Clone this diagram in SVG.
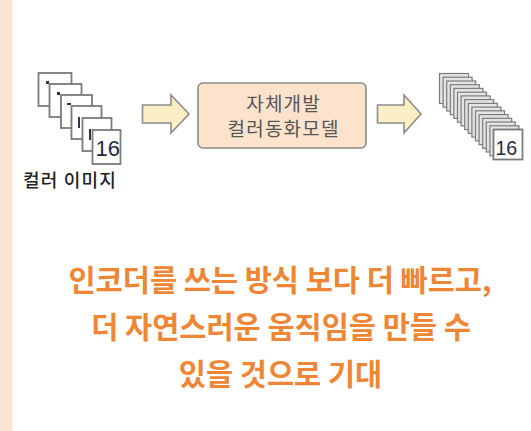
<svg xmlns="http://www.w3.org/2000/svg" width="531" height="431" viewBox="0 0 531 431">
  <style>
    .frame { fill: #ffffff; stroke: #7a7a7a; stroke-width: 1.8; }
    .gframe { fill: #e4e4e4; stroke: #7c7c7c; stroke-width: 1.2; }
    .peek { fill: #2a3550; }
    .num { font-family: "Liberation Sans", "DejaVu Sans", sans-serif; fill: #1e2a40; }
    .arrow { fill: #fdeec6; stroke: #8c8c8c; stroke-width: 1.6; stroke-linejoin: miter; }
    .box { fill: #fde3cc; stroke: #8a8a8a; stroke-width: 1.6; }
    .boxtxt { font-family: "Noto Sans CJK KR", "Noto Sans", sans-serif; font-size: 19px; letter-spacing: 1.2px; fill: #555555; text-anchor: middle; }
    .label { font-family: "Noto Sans CJK KR", "Noto Sans", sans-serif; font-size: 18px; font-weight: 500; letter-spacing: 1.2px; fill: #222222; }
    .note { font-family: "Noto Sans CJK KR", "Noto Sans", sans-serif; font-size: 29.5px; font-weight: 700; fill: #ef8636; text-anchor: middle; }
  </style>

  <rect x="0" y="0" width="531" height="431" fill="#ffffff"/>
  <!-- side strip -->
  <rect x="0" y="0" width="12.5" height="431" fill="#fde4d2"/>

  <!-- input: stack of colour frames -->
  <g id="input-frames">
    <rect class="frame" x="38.5" y="73" width="33" height="33"/>
    <rect class="peek" x="46" y="81" width="3" height="3"/>
    <rect class="frame" x="49.5" y="84" width="32" height="33"/>
    <rect class="peek" x="57" y="92" width="3" height="3"/>
    <rect class="frame" x="61" y="95" width="31" height="33"/>
    <rect class="peek" x="67" y="103" width="4" height="2"/>
    <rect class="frame" x="71.5" y="106" width="30" height="33"/>
    <rect class="peek" x="78" y="117" width="2" height="11"/>
    <rect class="frame" x="82.5" y="118" width="29" height="33"/>
    <rect class="peek" x="89" y="129" width="2" height="11"/>
    <rect class="frame" x="92.5" y="130" width="28" height="34"/>
    <text class="num" x="95.5" y="155.5" font-size="22">16</text>
    <text class="label" x="23" y="187">컬러 이미지</text>
  </g>

  <!-- colourisation model -->
  <g id="model">
    <rect class="box" x="198" y="83" width="168" height="65" rx="5" ry="5"/>
    <text class="boxtxt" x="283.6" y="111">자체개발</text>
    <text class="boxtxt" x="283.6" y="136">컬러동화모델</text>
  </g>

  <!-- output: long stack of frames -->
  <g id="output-frames">
    <rect class="gframe" x="439.5" y="73.5" width="29" height="30"/>
    <rect class="gframe" x="443.1" y="77.2" width="29" height="30"/>
    <rect class="gframe" x="446.7" y="81" width="29" height="30"/>
    <rect class="gframe" x="450.3" y="84.7" width="29" height="30"/>
    <rect class="gframe" x="453.9" y="88.4" width="29" height="30"/>
    <rect class="gframe" x="457.5" y="92.2" width="29" height="30"/>
    <rect class="gframe" x="461.1" y="95.9" width="29" height="30"/>
    <rect class="gframe" x="464.7" y="99.6" width="29" height="30"/>
    <rect class="gframe" x="468.3" y="103.4" width="29" height="30"/>
    <rect class="gframe" x="471.9" y="107.1" width="29" height="30"/>
    <rect class="gframe" x="475.5" y="110.8" width="29" height="30"/>
    <rect class="gframe" x="479.1" y="114.6" width="29" height="30"/>
    <rect class="gframe" x="482.7" y="118.3" width="29" height="30"/>
    <rect class="gframe" x="486.3" y="122" width="29" height="30"/>
    <rect class="gframe" x="489.9" y="125.8" width="29" height="30"/>
    <rect class="frame" x="493.5" y="129.5" width="29" height="30"/>
    <text class="num" x="495.5" y="154.5" font-size="19.5">16</text>
  </g>

  <g id="connectors">
    <path class="arrow" d="M142.5,105 H171 V95 L189,114 L171,133 V123 H142.5 Z"/>
    <path class="arrow" d="M377.5,105 H404 V95 L421,114 L404,133 V123 H377.5 Z"/>
  </g>

  <!-- conclusion -->
  <g id="note">
    <text class="note" x="280" y="291">인코더를 쓰는 방식 보다 더 빠르고,</text>
    <text class="note" x="281" y="338">더 자연스러운 움직임을 만들 수</text>
    <text class="note" x="280.5" y="385">있을 것으로 기대</text>
  </g>
</svg>
